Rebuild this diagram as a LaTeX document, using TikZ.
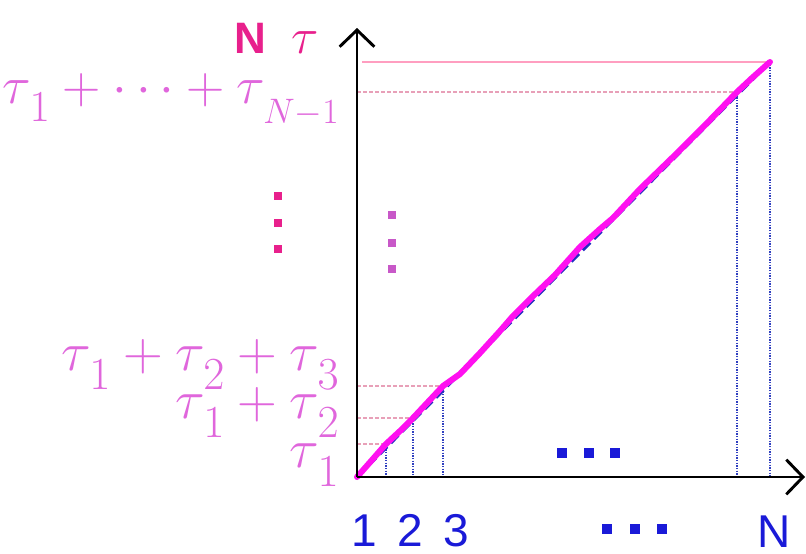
\documentclass[tikz,border=0pt]{standalone}
\usepackage{graphicx}
\usepackage{fontspec}
\setsansfont{Liberation Sans}
\usetikzlibrary{arrows.meta}
\definecolor{magline}{HTML}{FF10F0}
\definecolor{bluedash}{HTML}{2030C0}
\definecolor{bluetext}{HTML}{1A1AD8}
\definecolor{mathpink}{HTML}{E066DC}
\definecolor{deepmag}{HTML}{E8208C}
\definecolor{violetdot}{HTML}{C858C8}
\definecolor{guidepink}{HTML}{E8A0B8}
\definecolor{toppink}{HTML}{FF9EC0}
\definecolor{bluedot}{HTML}{3040C0}
\newcommand{\mymath}[2]{\scalebox{#1}{\fontsize{24.88}{24.88}\selectfont$#2$}}
\newcommand{\tsub}[1]{\tau_{\kern2pt\raisebox{-5pt}{$\scriptstyle #1$}}}
\tikzset{
  axisline/.style={line width=2.2pt, -{Straight Barb[length=12.5pt,width=26pt,line width=2.2pt]}},
  mathlabel/.style={text=mathpink, inner sep=0pt, anchor=base east},
  bluelabel/.style={text=bluetext, inner sep=0pt, anchor=base west, font=\sffamily\fontsize{34.5}{34.5}\selectfont},
  hguide/.style={guidepink, line width=0.8pt, dash pattern=on 3pt off 1.5pt},
  vguide/.style={bluedot, line width=1.1pt, dash pattern=on 1pt off 1pt},
  curveline/.style={magline, line width=4.5pt, line join=round, line cap=round},
  diagline/.style={bluedash, line width=2.3pt, dash pattern=on 8pt off 4pt},
  bsq/.style={fill=bluetext, draw=none, minimum size=7.2pt, inner sep=0pt},
  psq/.style={fill=deepmag, draw=none, minimum size=6pt, inner sep=0pt},
  vsq/.style={fill=violetdot, draw=none, minimum size=5.5pt, inner sep=0pt}
}
\begin{document}
\begin{tikzpicture}[x=0.75pt,y=-0.75pt]
\useasboundingbox[fill=white] (0,0) rectangle (806,553);
% key points
\coordinate (O) at (357,477);
\coordinate (Ytip) at (357,28);
\coordinate (Xtip) at (805,477);
\coordinate (P1) at (386,444);
\coordinate (P2) at (413,418);
\coordinate (P3) at (443,386);
\coordinate (PN1) at (737,92);
\coordinate (PN) at (770,62);
\coordinate (Y1) at (357,444);
\coordinate (Y2) at (357,418);
\coordinate (Y3) at (357,386);
\coordinate (YN1) at (357,92);
\coordinate (YN) at (362,62);
\coordinate (X1) at (386,477);
\coordinate (X2) at (413,477);
\coordinate (X3) at (443,477);
\coordinate (XN1) at (737,477);
\coordinate (XN) at (770,477);
% guides
\draw[toppink, line width=0.9pt] (YN) -- (PN);
\draw[hguide] (YN1) -- (PN1);
\draw[hguide] (Y1) -- (P1);
\draw[hguide] (Y2) -- (P2);
\draw[hguide] (Y3) -- (P3);
\draw[vguide] (P1) -- (X1);
\draw[vguide] (P2) -- (X2);
\draw[vguide] (P3) -- (X3);
\draw[vguide] (PN1) -- (XN1);
\draw[vguide] (PN) -- (XN);
% diagonal and curve
\draw[diagline, xshift=1.2pt, yshift=-1.2pt] (O) -- (PN);
\draw[curveline] (O) -- (372,460) -- (P1) -- (400,431) -- (P2) -- (428,402) -- (P3)
  -- (460,374) -- (480,353) -- (500,331) -- (513,316) -- (530,299) -- (555,275)
  -- (580,247) -- (600,229) -- (613,218) -- (640,189) -- (673,157) -- (690,140)
  -- (710,120) -- (PN1) -- (752,78) -- (PN);
% axes
\draw[axisline] (O) -- (Ytip);
\draw[axisline] (O) -- (Xtip);
% labels
\node[inner sep=0pt, anchor=base west, text=deepmag, font=\sffamily\bfseries\fontsize{33}{33}\selectfont] (Nlab) at (234,53) {N};
\node[inner sep=0pt, anchor=base west, text=deepmag] (taulab) at (291,53) {\mymath{1.53}{\tau}};
\node[mathlabel] (SN1) at (340,103) {\mymath{1.6}{\tsub{1}+\cdots+\tau_{\kern2pt\raisebox{-6pt}{\scalebox{0.8}{$\scriptstyle N-1$}}}}};
\node[mathlabel] (S3) at (340,370) {\mymath{1.66}{\tsub{1}+\tsub{2}+\tsub{3}}};
\node[mathlabel] (S2) at (340,418) {\mymath{1.66}{\tsub{1}+\tsub{2}}};
\node[mathlabel] (S1) at (340,467) {\mymath{1.66}{\tsub{1}}};
\node[bluelabel] (L1) at (351,546) {1};
\node[bluelabel] (L2) at (397,546) {2};
\node[bluelabel] (L3) at (443,546) {3};
\node[bluelabel] (LN) at (757,547) {N};
% dots
\node[psq] (pd1) at (278,196) {};
\node[psq] (pd2) at (278,223) {};
\node[psq] (pd3) at (278,249) {};
\node[vsq] (vd1) at (392,215) {};
\node[vsq] (vd2) at (392,243) {};
\node[vsq] (vd3) at (392,269) {};
\node[bsq] (bd1) at (562,453) {};
\node[bsq] (bd2) at (589,453) {};
\node[bsq] (bd3) at (615,453) {};
\node[bsq] (be1) at (607,529) {};
\node[bsq] (be2) at (635,529) {};
\node[bsq] (be3) at (662,529) {};
\end{tikzpicture}
\end{document}
